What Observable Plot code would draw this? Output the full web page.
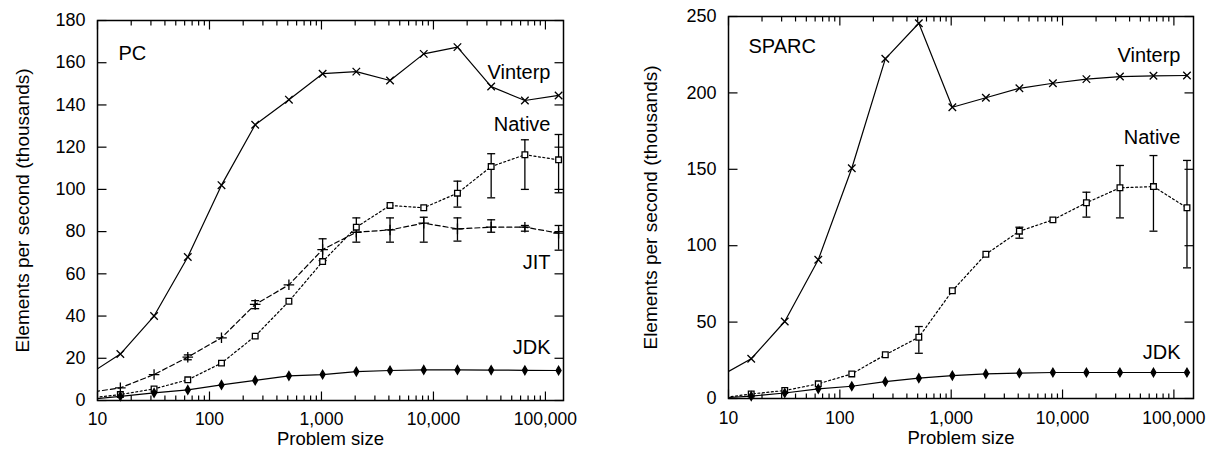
<!DOCTYPE html>
<html><head><meta charset="utf-8">
<script src="https://cdn.jsdelivr.net/npm/d3@7"></script>
<script src="https://cdn.jsdelivr.net/npm/@observablehq/plot@0.6"></script>
<style>
body{margin:0;background:#fff;}
#wrap{position:relative;width:1211px;height:449px;background:#fff;}
#left{position:absolute;left:0;top:0;}
#right{position:absolute;left:600px;top:0;}
</style></head><body><div id="wrap"><div id="left"></div><div id="right"></div></div>
<script>
// ---- data (problem sizes, values in thousands of elements per second) ----
const sizes = [8, 16, 32, 64, 128, 256, 512, 1024, 2048, 4096, 8192, 16384, 32768, 65536, 131072];

// PC panel
const pcVinterp = [11.7, 22, 40, 68, 102, 130.6, 142.5, 154.8, 155.8, 151.6, 164.2, 167.4, 148.7, 142.1, 144.5];
const pcJit     = [3.6, 6, 12.3, 20.5, 29.7, 45.5, 54.8, 71.5, 79.7, 80.8, 84, 81.3, 82.1, 82.1, 79.3];
const pcNative  = [1, 2.8, 5.5, 9.8, 17.7, 30.5, 47, 65.8, 82.1, 92.4, 91.3, 98.2, 110.8, 116.4, 114];
const pcJdk     = [0.4, 2, 3.6, 5, 7.4, 9.5, 11.7, 12.3, 13.7, 14.2, 14.5, 14.5, 14.4, 14.3, 14.2];
const pcJitErrSizes  = [64, 256, 1024, 2048, 4096, 8192, 16384, 32768, 65536, 131072];
const pcJitErrLow    = [19.3, 43.5, 66.3, 75, 75, 75, 75.5, 79.7, 80.2, 71.2];
const pcJitErrHigh   = [21.6, 47.3, 76.6, 86.5, 86.5, 86.8, 86.5, 85.6, 82.9, 82.9];
const pcNativeErrSizes = [16384, 32768, 65536, 131072];
const pcNativeErrLow   = [91.6, 96, 100, 98.4];
const pcNativeErrHigh  = [103.9, 116.9, 123.5, 126];

// SPARC panel
const spVinterp = [13.8, 26, 50.4, 90.8, 150.7, 222.3, 245.6, 190.6, 196.8, 203, 206.3, 209, 210.7, 211.2, 211.4];
const spNative  = [0, 3, 5.2, 9.6, 16.1, 28.6, 40.1, 70.5, 94.4, 109.5, 116.9, 128.1, 137.9, 138.7, 124.8];
const spJdk     = [0.3, 1.5, 3.6, 6.3, 8, 11, 13.3, 15, 16.1, 16.6, 17, 17, 17, 17, 17];
const spNativeErrSizes = [512, 4096, 16384, 32768, 65536, 131072];
const spNativeErrLow   = [29.6, 104.9, 118.7, 118.2, 109.5, 85.5];
const spNativeErrHigh  = [47.1, 112.1, 135, 152.5, 159, 155.8];

// axes / labels
const xTicks = [10, 100, 1000, 10000, 100000];
const xTickLabels = ["10", "100", "1,000", "10,000", "100,000"];
const pcYTicks = [0, 20, 40, 60, 80, 100, 120, 140, 160, 180];
const spYTicks = [0, 50, 100, 150, 200, 250];
const xTitle = "Problem size";
const yTitle = "Elements per second (thousands)";
const pcLabelText = ["Vinterp", "Native", "JIT", "JDK"];
const pcLabelY    = [155.4, 130.7, 65.4, 25];
const spLabelText = ["Vinterp", "Native", "JDK"];
const spLabelY    = [224.5, 170.8, 30.3];
const pcTitle = "PC", pcTitleY = 164.4;
const spTitle = "SPARC", spTitleY = 230;

// ---- helpers ----
const FONT = "'Liberation Sans', Arial, Helvetica, sans-serif";
const seg = (x1, y1, x2, y2) => ({draw(ctx) { ctx.moveTo(x1, y1); ctx.lineTo(x2, y2); }});
const capSym = seg(-4, 0, 4, 0);
const rows = (ys) => sizes.map((s, i) => ({x: s, y: ys[i]}));
const errRows = (xs, lo, hi) => xs.map((s, i) => ({x: s, lo: lo[i], hi: hi[i]}));
const minorTicks = [];
for (let d = 10; d < 200000; d *= 10) for (let k = 2; k <= 9; k++) minorTicks.push(d * k);

function series(data, {dash, symbol, fill, r}) {
  const vis = data.filter(d => d.x >= 10);
  return [
    Plot.line(data, {x: "x", y: "y", stroke: "black", strokeWidth: 1.2, strokeDasharray: dash, clip: true}),
    Plot.dot(vis, {x: "x", y: "y", symbol, r, stroke: "black", fill, strokeWidth: 1.3})
  ];
}
function errorBars(rowsE) {
  return [
    Plot.ruleX(rowsE, {x: "x", y1: "lo", y2: "hi", stroke: "black", strokeWidth: 1.3}),
    Plot.dot(rowsE, {x: "x", y: "lo", symbol: capSym, stroke: "black", fill: "none", strokeWidth: 1.3}),
    Plot.dot(rowsE, {x: "x", y: "hi", symbol: capSym, stroke: "black", fill: "none", strokeWidth: 1.3})
  ];
}
function frameTicks(xMax, yTicks) {
  const xMaj = xTicks.filter(v => v <= xMax), xMin = minorTicks.filter(v => v <= xMax);
  const tk = (data, opts, sym) => Plot.dot(data, {...opts, symbol: sym, stroke: "black", fill: "none", strokeWidth: 1.2});
  return [
    tk(yTicks, {y: d => d, frameAnchor: "left"}, seg(0, 0, 9, 0)),
    tk(yTicks, {y: d => d, frameAnchor: "right"}, seg(0, 0, -9, 0)),
    tk(xMaj, {x: d => d, frameAnchor: "bottom"}, seg(0, 0, 0, -9)),
    tk(xMaj, {x: d => d, frameAnchor: "top"}, seg(0, 0, 0, 9)),
    tk(xMin, {x: d => d, frameAnchor: "bottom"}, seg(0, 0, 0, -5)),
    tk(xMin, {x: d => d, frameAnchor: "top"}, seg(0, 0, 0, 5))
  ];
}
function panel(o) {
  return Plot.plot({
    width: o.width, height: 449,
    marginLeft: o.ml, marginRight: o.mr, marginTop: o.mt, marginBottom: o.mb,
    style: {fontFamily: FONT, background: "white", color: "black"},
    x: {type: "log", domain: [10, o.xMax], axis: null},
    y: {domain: [0, o.yMax], axis: null},
    marks: [
      ...o.lines,
      Plot.frame({stroke: "black", strokeWidth: 1.5}),
      ...frameTicks(o.xMax, o.yTicks),
      Plot.text(o.yTicks, {y: d => d, text: d => String(d), frameAnchor: "left", dx: -12, textAnchor: "end", fontSize: 18}),
      Plot.text(xTicks, {x: d => d, text: (d, i) => xTickLabels[i], frameAnchor: "bottom", dy: o.xlOff, lineAnchor: "middle", fontSize: 17.5}),
      Plot.text([xTitle], {text: d => d, frameAnchor: "bottom", dy: o.xtOff, lineAnchor: "middle", fontSize: 18.5}),
      Plot.text([yTitle], {text: d => d, frameAnchor: "left", dx: -o.ytOff, rotate: -90, textAnchor: "middle", lineAnchor: "middle", fontSize: 19}),
      Plot.text(o.labelText, {y: (d, i) => o.labelY[i], text: d => d, frameAnchor: "right", dx: -13, textAnchor: "end", fontSize: 20}),
      Plot.text([o.title], {y: () => o.titleY, text: d => d, frameAnchor: "left", dx: o.titleDx, textAnchor: "start", fontSize: 20})
    ]
  });
}

document.getElementById("left").append(panel({
  width: 600, ml: 97, mr: 37, mt: 20, mb: 49, xMax: 145000, yMax: 180, yTicks: pcYTicks, ytOff: 75, xtOff: 39, xlOff: 19,
  labelText: pcLabelText, labelY: pcLabelY, title: pcTitle, titleY: pcTitleY, titleDx: 21,
  lines: [
    ...series(rows(pcVinterp), {symbol: "times", r: 3.5, fill: "none"}),
    ...errorBars(errRows(pcJitErrSizes, pcJitErrLow, pcJitErrHigh)),
    ...errorBars(errRows(pcNativeErrSizes, pcNativeErrLow, pcNativeErrHigh)),
    ...series(rows(pcJit), {dash: "5,3", symbol: "plus", r: 3.5, fill: "none"}),
    ...series(rows(pcNative), {dash: "2,2.5", symbol: "square", r: 3.2, fill: "white"}),
    ...series(rows(pcJdk), {symbol: "diamond", r: 2.6, fill: "black"})
  ]
}));
document.getElementById("right").append(panel({
  width: 611, ml: 128, mr: 18, mt: 16, mb: 51, xMax: 150000, yMax: 250, yTicks: spYTicks, ytOff: 78, xtOff: 40, xlOff: 20,
  labelText: spLabelText, labelY: spLabelY, title: spTitle, titleY: spTitleY, titleDx: 20,
  lines: [
    ...series(rows(spVinterp), {symbol: "times", r: 3.5, fill: "none"}),
    ...errorBars(errRows(spNativeErrSizes, spNativeErrLow, spNativeErrHigh)),
    ...series(rows(spNative), {dash: "2,2.5", symbol: "square", r: 3.2, fill: "white"}),
    ...series(rows(spJdk), {symbol: "diamond", r: 2.6, fill: "black"})
  ]
}));
</script>
</body></html>
